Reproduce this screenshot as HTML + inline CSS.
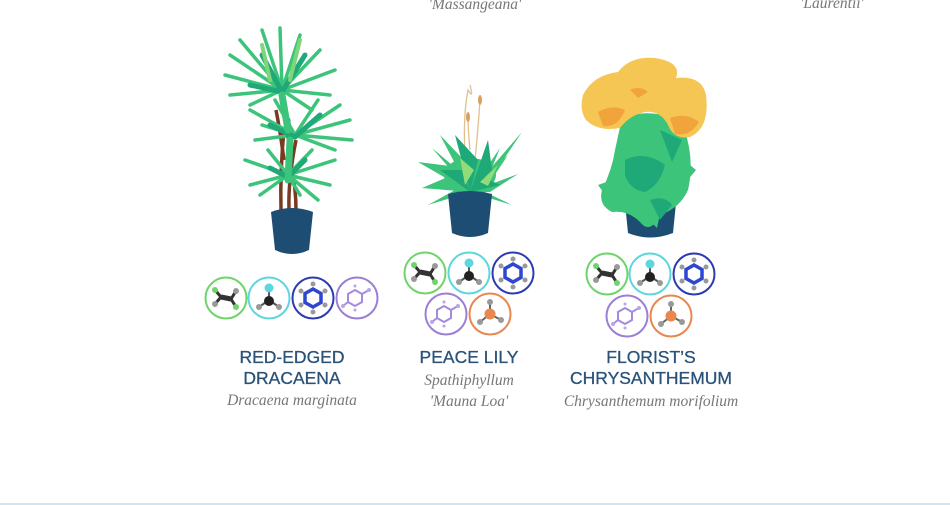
<!DOCTYPE html>
<html><head><meta charset="utf-8"><style>
html,body{margin:0;padding:0;background:#fff;}
body{width:950px;height:505px;overflow:hidden;position:relative;}
svg{position:absolute;left:0;top:0;}
.t{font-family:"Liberation Sans",sans-serif;font-size:17.5px;fill:#2a5278;text-anchor:middle;stroke:#2a5278;stroke-width:0.3;}
.s{font-family:"Liberation Serif",serif;font-style:italic;font-size:15.5px;fill:#777;text-anchor:middle;}
</style></head><body>
<svg width="950" height="505" viewBox="0 0 950 505">
<defs>
<g id="m1"><circle r="20.5" fill="#fff" stroke="#6fd46a" stroke-width="2"/>
 <line x1="-5" y1="-1" x2="5" y2="1" stroke="#333" stroke-width="5"/>
 <line x1="-5" y1="-1" x2="-11" y2="-8" stroke="#333" stroke-width="3"/><line x1="-5" y1="-1" x2="-11" y2="6" stroke="#333" stroke-width="3"/>
 <line x1="5" y1="1" x2="10" y2="-7" stroke="#333" stroke-width="3"/><line x1="5" y1="1" x2="10" y2="9" stroke="#333" stroke-width="3"/>
 <circle cx="-11" cy="-8" r="3" fill="#6fd46a"/><circle cx="-11" cy="6" r="3" fill="#999"/><circle cx="10" cy="-7" r="3" fill="#999"/><circle cx="10" cy="9" r="3" fill="#6fd46a"/></g>
<g id="m2"><circle r="20.5" fill="#fff" stroke="#5ed6de" stroke-width="2"/>
 <line x1="0" y1="2" x2="0" y2="-10" stroke="#555" stroke-width="2"/><line x1="0" y1="2" x2="-10" y2="9" stroke="#555" stroke-width="2"/><line x1="0" y1="2" x2="10" y2="9" stroke="#555" stroke-width="2"/>
 <circle cx="0" cy="-10" r="4.5" fill="#5ed6de"/><circle cx="0" cy="3" r="5" fill="#222"/><circle cx="-10" cy="9" r="3" fill="#999"/><circle cx="10" cy="9" r="3" fill="#999"/></g>
<g id="m3"><circle r="20.5" fill="#fff" stroke="#2e3bb0" stroke-width="2"/>
 <polygon points="0,-9 8,-4.5 8,4.5 0,9 -8,4.5 -8,-4.5" fill="none" stroke="#2e47d0" stroke-width="3.5"/>
 <g fill="#999"><circle cx="0" cy="-14" r="2.5"/><circle cx="12" cy="-7" r="2.5"/><circle cx="12" cy="7" r="2.5"/><circle cx="0" cy="14" r="2.5"/><circle cx="-12" cy="7" r="2.5"/><circle cx="-12" cy="-7" r="2.5"/></g></g>
<g id="m4"><circle r="20.5" fill="#fff" stroke="#9b7fd6" stroke-width="2"/>
 <polygon points="-2,-8 5,-4 5,4 -2,8 -9,4 -9,-4" fill="none" stroke="#a58ae0" stroke-width="2"/>
 <line x1="5" y1="-4" x2="12" y2="-8" stroke="#a58ae0" stroke-width="2"/><line x1="-9" y1="4" x2="-14" y2="8" stroke="#a58ae0" stroke-width="2"/>
 <g fill="#b9a6e8"><circle cx="12" cy="-8" r="2"/><circle cx="-14" cy="8" r="2"/><circle cx="-2" cy="-12" r="1.5"/><circle cx="-2" cy="12" r="1.5"/></g></g>
<g id="m5"><circle r="20.5" fill="#fff" stroke="#e8884f" stroke-width="2"/>
 <line x1="0" y1="0" x2="0" y2="-12" stroke="#666" stroke-width="2"/><line x1="0" y1="0" x2="-10" y2="8" stroke="#666" stroke-width="2"/><line x1="0" y1="0" x2="11" y2="6" stroke="#666" stroke-width="2"/>
 <circle cx="0" cy="-12" r="3" fill="#999"/><circle cx="-10" cy="8" r="3" fill="#999"/><circle cx="11" cy="6" r="3" fill="#999"/><circle cx="0" cy="0" r="5.5" fill="#e8884f"/></g>
</defs>

<text x="475" y="9" class="s">'Massangeana'</text>
<text x="832" y="8" class="s">'Laurentii'</text>

<!-- Dracaena -->
<g stroke="#7a3a22" stroke-width="3.5" fill="none">
<path d="M281 210 Q280 170 284 130"/><path d="M289 210 Q288 180 296 140"/><path d="M296 210 Q296 190 292 170"/><path d="M276 110 Q280 130 284 160"/>
</g>
<g stroke-linecap="round" fill="none">
<g stroke="#3cc47a" stroke-width="3.5">
<path d="M282 90 L230 55"/><path d="M282 90 L225 75"/><path d="M282 90 L240 40"/><path d="M282 90 L262 30"/><path d="M282 90 L280 28"/><path d="M282 90 L300 35"/><path d="M282 90 L320 50"/><path d="M282 90 L335 70"/><path d="M282 90 L230 95"/><path d="M282 90 L330 95"/><path d="M282 90 L250 105"/><path d="M282 90 L312 110"/>
<path d="M295 135 L250 110"/><path d="M295 135 L255 140"/><path d="M295 135 L350 120"/><path d="M295 135 L340 105"/><path d="M295 135 L352 140"/><path d="M295 135 L318 100"/><path d="M295 135 L275 100"/><path d="M295 135 L335 150"/><path d="M295 135 L262 125"/>
<path d="M288 175 L245 160"/><path d="M288 175 L250 185"/><path d="M288 175 L335 160"/><path d="M288 175 L330 185"/><path d="M288 175 L268 150"/><path d="M288 175 L312 150"/><path d="M288 175 L260 195"/><path d="M288 175 L318 200"/><path d="M288 175 L300 195"/>
</g>
<g stroke="#1fa878" stroke-width="5">
<path d="M282 92 L262 55"/><path d="M282 92 L305 55"/><path d="M282 92 L250 85"/><path d="M295 137 L320 115"/><path d="M295 137 L270 125"/><path d="M288 177 L305 160"/><path d="M288 177 L270 168"/><path d="M288 120 L290 160"/>
</g>
<g stroke="#3cc47a" stroke-width="7"><path d="M282 95 L288 130"/><path d="M290 140 L288 180"/></g>
<g stroke="#7fd67a" stroke-width="4"><path d="M270 80 L262 45"/><path d="M290 80 L300 40"/></g>
</g>
<path d="M271 212 Q292 204 313 212 L309 250 Q292 258 275 250 Z" fill="#1d4d72"/>

<!-- Peace lily -->
<g fill="none" stroke="#e0c090" stroke-width="1.3"><path d="M466 170 Q462 120 468 90 Q474 100 470 85"/><path d="M475 160 Q478 130 480 100"/><path d="M470 150 Q468 130 468 115"/></g>
<g fill="#d9a060"><ellipse cx="468" cy="117" rx="2" ry="5"/><ellipse cx="480" cy="100" rx="2" ry="5"/></g>
<g fill="#3cc47a">
<path d="M470 192 L418 162 L450 166 Z"/><path d="M470 192 L422 188 L450 176 Z"/><path d="M470 192 L522 132 L498 168 Z"/><path d="M470 192 L518 174 L490 192 Z"/><path d="M470 192 L440 135 L462 158 Z"/><path d="M470 192 L500 148 L487 180 Z"/><path d="M470 192 L428 205 L455 190 Z"/><path d="M470 192 L512 205 L485 192 Z"/><path d="M470 192 L432 148 L458 170 Z"/><path d="M470 192 L508 155 L490 182 Z"/>
<ellipse cx="470" cy="175" rx="26" ry="17"/>
</g>
<g fill="#1fa878"><path d="M470 192 L455 135 L478 160 Z"/><path d="M470 192 L488 140 L492 170 Z"/><path d="M470 192 L440 170 L462 170 Z"/><path d="M470 192 L500 185 L482 176 Z"/></g>
<g fill="#8fdc78"><path d="M465 185 L460 158 L474 170 Z"/><path d="M480 182 L498 165 L488 186 Z"/></g>
<path d="M448 194 Q470 188 492 194 L488 233 Q470 241 452 233 Z" fill="#1d4d72"/>

<!-- Chrysanthemum -->
<path d="M623 183 Q650 176 678 183 L673 233 Q650 242 628 233 Z" fill="#1d4d72"/>
<g fill="#3cc47a">
<path d="M622 118 Q660 105 684 128 Q695 160 688 190 Q680 208 660 215 Q650 235 640 222 Q628 210 612 212 Q598 205 602 190 Q612 170 615 150 Z"/>
<path d="M640 190 L662 205 L657 228 L640 212 Z"/>
<path d="M612 180 L598 185 L606 196 Z"/><path d="M684 160 L696 170 L686 182 Z"/>
</g>
<g fill="#1fa878"><path d="M625 160 Q645 150 665 165 Q660 185 645 192 Q630 190 625 175 Z"/><path d="M660 130 L682 140 L672 162 Z"/><path d="M650 200 Q665 195 672 205 L660 220 Z"/></g>
<g fill="#f5c654">
<path d="M583 95 Q593 75 618 72 Q630 56 655 58 Q682 62 676 78 Q702 75 706 95 Q710 128 690 137 Q674 140 668 125 Q660 110 645 112 Q630 115 620 128 Q598 132 586 120 Q579 110 583 95 Z"/>
</g>
<g fill="#f2a43c"><path d="M598 112 Q612 104 625 110 Q618 128 603 126 Z"/><path d="M670 118 Q686 112 699 122 Q690 137 675 134 Z"/><path d="M630 90 Q640 85 648 92 L638 98 Z"/></g>

<use href="#m1" x="226" y="298"/><use href="#m2" x="269" y="298"/><use href="#m3" x="313" y="298"/><use href="#m4" x="357" y="298"/>
<use href="#m1" x="425" y="273"/><use href="#m2" x="469" y="273"/><use href="#m3" x="513" y="273"/><use href="#m4" x="446" y="314"/><use href="#m5" x="490" y="314"/>
<use href="#m1" x="607" y="274"/><use href="#m2" x="650" y="274"/><use href="#m3" x="694" y="274"/><use href="#m4" x="627" y="316"/><use href="#m5" x="671" y="316"/>

<text x="292" y="363" class="t">RED-EDGED</text>
<text x="292" y="384" class="t">DRACAENA</text>
<text x="292" y="405" class="s">Dracaena marginata</text>
<text x="469" y="363" class="t">PEACE LILY</text>
<text x="469" y="385" class="s">Spathiphyllum</text>
<text x="469" y="406" class="s">'Mauna Loa'</text>
<text x="651" y="363" class="t">FLORIST’S</text>
<text x="651" y="384" class="t">CHRYSANTHEMUM</text>
<text x="651" y="406" class="s">Chrysanthemum morifolium</text>

<rect x="0" y="503" width="950" height="2" fill="#cfe6f2"/>
</svg>
</body></html>
